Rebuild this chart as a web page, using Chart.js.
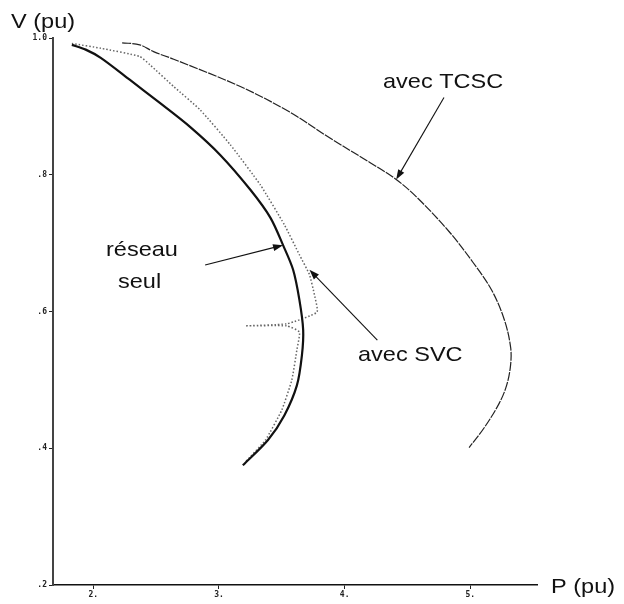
<!DOCTYPE html>
<html lang="fr">
<head>
    <meta charset="UTF-8">
    <title>Courbes P-V</title>
    <script src="https://cdn.jsdelivr.net/npm/chart.js"></script>
    <style>
        body { margin: 0; background: #fff; }
        canvas { display: block; }
    </style>
</head>
<body>
    <canvas id="pvChart" width="624" height="604"></canvas>

    <script>
        // courbe réseau seul
        var P_RESEAU = [1.83, 1.94, 2.06, 2.29, 2.53, 2.77, 3.01, 3.25, 3.41, 3.51, 3.59, 3.64, 3.67, 3.66, 3.62, 3.52, 3.39, 3.19];
        var V_RESEAU = [0.990, 0.983, 0.971, 0.939, 0.905, 0.870, 0.829, 0.778, 0.737, 0.697, 0.661, 0.617, 0.573, 0.536, 0.492, 0.448, 0.412, 0.375];

        // courbe avec SVC
        var P_SVC = [1.83, 2.06, 2.37, 2.45, 2.64, 2.85, 3.09, 3.33, 3.52, 3.64, 3.72, 3.76, 3.78, 3.54, 3.21, 3.54, 3.64, 3.62, 3.58, 3.50, 3.37, 3.21];
        var V_SVC = [0.992, 0.985, 0.973, 0.961, 0.929, 0.895, 0.844, 0.785, 0.727, 0.683, 0.654, 0.624, 0.599, 0.582, 0.579, 0.579, 0.570, 0.544, 0.500, 0.456, 0.412, 0.380];

        // courbe avec TCSC
        var P_TCSC = [2.23, 2.37, 2.48, 2.64, 3.17, 3.56, 3.88, 4.20, 4.41, 4.58, 4.83, 5.02, 5.17, 5.27, 5.32, 5.32, 5.29, 5.23, 5.11, 4.99];
        var V_TCSC = [0.993, 0.990, 0.980, 0.969, 0.929, 0.892, 0.854, 0.818, 0.793, 0.766, 0.717, 0.672, 0.631, 0.588, 0.548, 0.522, 0.493, 0.466, 0.430, 0.401];

        var X_TICKS = [2, 3, 4, 5];
        var X_LABELS = ["2.", "3.", "4.", "5."];
        var Y_TICKS = [0.2, 0.4, 0.6, 0.8, 1.0];
        var Y_LABELS = [".2", ".4", ".6", ".8", "1.0"];

        function toPoints(px, py) {
            return px.map(function (p, i) { return { x: p, y: py[i] }; });
        }

        var TXT_FONT = '21px "Liberation Sans", Arial, sans-serif';

        function stretchedText(ctx, txt, x, y) {
            ctx.save();
            ctx.translate(x, y);
            ctx.scale(1.12, 1);
            ctx.fillText(txt, 0, 0);
            ctx.restore();
        }

        function arrow(ctx, x1, y1, x2, y2) {
            var a = Math.atan2(y2 - y1, x2 - x1);
            ctx.beginPath();
            ctx.moveTo(x1, y1);
            ctx.lineTo(x2 - 6 * Math.cos(a), y2 - 6 * Math.sin(a));
            ctx.stroke();
            ctx.beginPath();
            ctx.moveTo(x2, y2);
            ctx.lineTo(x2 - 10 * Math.cos(a) + 3.5 * Math.sin(a), y2 - 10 * Math.sin(a) - 3.5 * Math.cos(a));
            ctx.lineTo(x2 - 10 * Math.cos(a) - 3.5 * Math.sin(a), y2 - 10 * Math.sin(a) + 3.5 * Math.cos(a));
            ctx.closePath();
            ctx.fill();
        }

        // texts and arrows drawn over the chart
        var annotations = {
            id: 'annotations',
            afterDraw: function (chart) {
                var ctx = chart.ctx;
                var xs = chart.scales.x, ys = chart.scales.y;
                function px(p) { return xs.getPixelForValue(p); }
                function py(v) { return ys.getPixelForValue(v); }

                ctx.save();
                ctx.fillStyle = '#111';
                ctx.strokeStyle = '#111';
                ctx.lineWidth = 1.1;
                ctx.font = TXT_FONT;
                ctx.textBaseline = 'alphabetic';
                ctx.textAlign = 'left';

                stretchedText(ctx, 'V (pu)', 11, 28);
                stretchedText(ctx, 'P (pu)', 551, 593);
                stretchedText(ctx, 'avec TCSC', 383, 88);
                stretchedText(ctx, 'réseau', 106, 256);
                stretchedText(ctx, 'seul', 118, 288);
                stretchedText(ctx, 'avec SVC', 358, 361);

                arrow(ctx, px(4.79), py(0.913), px(4.41), py(0.793));
                arrow(ctx, px(2.89), py(0.668), px(3.51), py(0.697));
                arrow(ctx, px(4.26), py(0.558), px(3.72), py(0.661));
                ctx.restore();
            }
        };

        var ctx = document.getElementById('pvChart').getContext('2d');
        var pvChart = new Chart(ctx, {
            type: 'scatter',
            data: {
                datasets: [
                    {
                        label: 'réseau seul',
                        data: toPoints(P_RESEAU, V_RESEAU),
                        showLine: true,
                        borderColor: '#111',
                        borderWidth: 2.2,
                        pointRadius: 0,
                        tension: 0.3
                    },
                    {
                        label: 'avec SVC',
                        data: toPoints(P_SVC, V_SVC),
                        showLine: true,
                        borderColor: '#666',
                        borderWidth: 1.5,
                        borderDash: [1.5, 2],
                        pointRadius: 0,
                        tension: 0.15
                    },
                    {
                        label: 'avec TCSC',
                        data: toPoints(P_TCSC, V_TCSC),
                        showLine: true,
                        borderColor: '#222',
                        borderWidth: 1.2,
                        borderDash: [9, 1.2],
                        pointRadius: 0,
                        tension: 0.35
                    }
                ]
            },
            options: {
                responsive: false,
                animation: false,
                layout: { padding: { left: 0, top: 38, right: 87, bottom: 0 } },
                plugins: {
                    legend: { display: false },
                    tooltip: { enabled: false }
                },
                scales: {
                    x: {
                        type: 'linear',
                        min: 1.68,
                        max: 5.53,
                        afterBuildTicks: function (scale) {
                            scale.ticks = X_TICKS.map(function (v) { return { value: v }; });
                        },
                        afterFit: function (scale) { scale.height = 19; },
                        grid: { display: true, drawOnChartArea: false, drawTicks: true, tickLength: 4, color: '#222' },
                        border: { display: true, color: '#111', width: 1.5 },
                        ticks: {
                            padding: 1,
                            maxRotation: 0,
                            color: '#222',
                            font: { family: 'DejaVu Sans Mono', size: 8, weight: 'bold' },
                            callback: function (v) {
                                var i = X_TICKS.indexOf(v);
                                return i >= 0 ? X_LABELS[i] : '';
                            }
                        }
                    },
                    y: {
                        type: 'linear',
                        min: 0.2,
                        max: 1.0,
                        afterBuildTicks: function (scale) {
                            scale.ticks = Y_TICKS.map(function (v) { return { value: v }; });
                        },
                        afterFit: function (scale) { scale.width = 53; },
                        grid: { display: true, drawOnChartArea: false, drawTicks: true, tickLength: 4, color: '#222' },
                        border: { display: true, color: '#444', width: 2 },
                        ticks: {
                            padding: 2,
                            color: '#222',
                            font: { family: 'DejaVu Sans Mono', size: 8, weight: 'bold' },
                            callback: function (v) {
                                var i = Y_TICKS.findIndex(function (t) { return Math.abs(t - v) < 1e-6; });
                                return i >= 0 ? Y_LABELS[i] : '';
                            }
                        }
                    }
                }
            },
            plugins: [annotations]
        });
    </script>
</body>
</html>
